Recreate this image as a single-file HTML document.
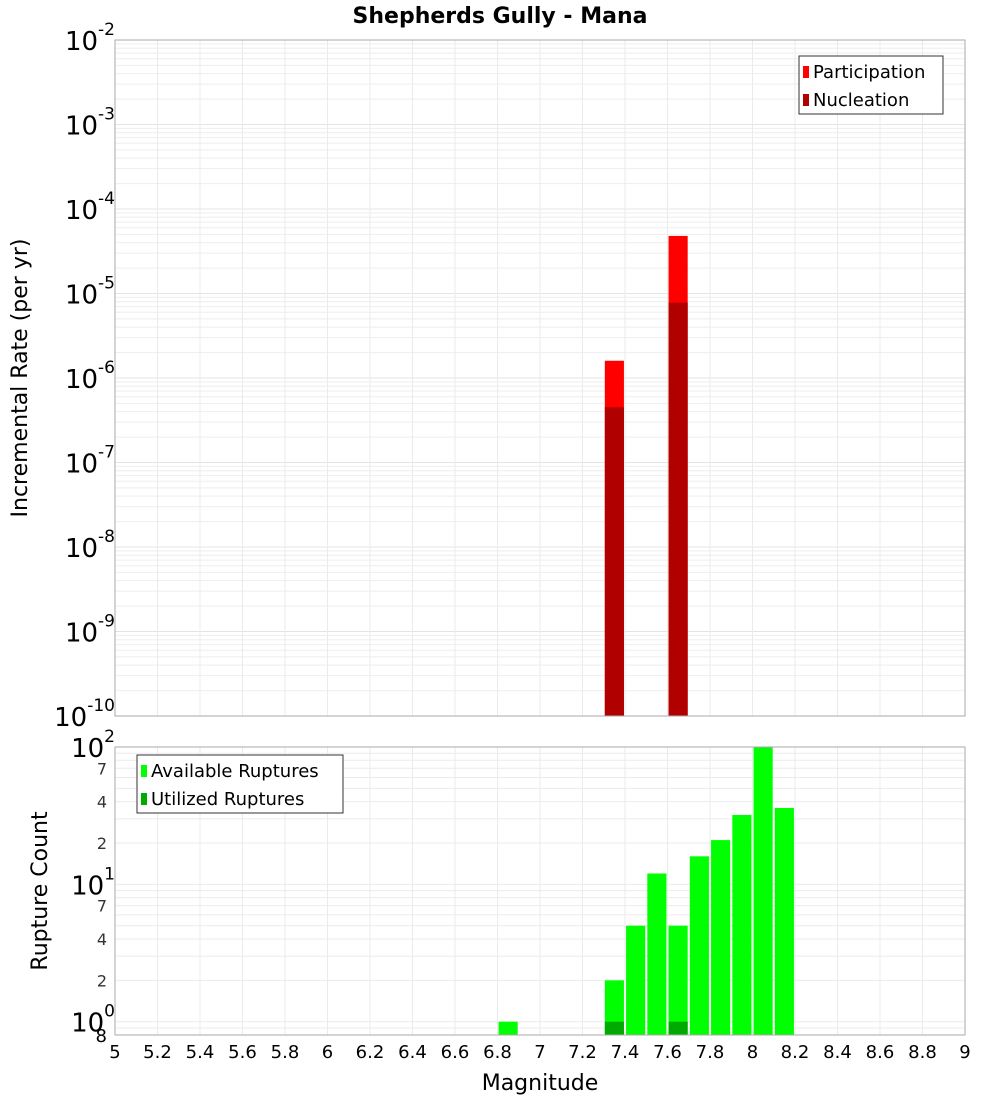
<!DOCTYPE html>
<html><head><meta charset="utf-8"><style>
body{margin:0;background:#fff;font-family:"DejaVu Sans","Liberation Sans",sans-serif}
svg text{font-family:"DejaVu Sans","Liberation Sans",sans-serif}
</style></head><body>
<svg id="c" width="1000" height="1100" xmlns="http://www.w3.org/2000/svg">
<text x="500" y="23" text-anchor="middle" font-size="22" font-weight="bold">Shepherds Gully - Mana</text>
<text transform="translate(27,378) rotate(-90)" text-anchor="middle" font-size="22">Incremental Rate (per yr)</text>
<text transform="translate(47,891) rotate(-90)" text-anchor="middle" font-size="22">Rupture Count</text>
<text x="540" y="1090" text-anchor="middle" font-size="22">Magnitude</text>
<g id="g"></g>
</svg>
<script>
const mags=[7.35,7.65];
const participation=[1.6e-6,4.8e-5];
const nucleation=[4.5e-7,7.8e-6];
const countMags=[6.85,7.35,7.45,7.55,7.65,7.75,7.85,7.95,8.05,8.15];
const available=[1,2,5,12,5,16,21,32,100,36];
const utilMags=[7.35,7.65];
const utilized=[1,1];
const xTicks=[5,5.2,5.4,5.6,5.8,6,6.2,6.4,6.6,6.8,7,7.2,7.4,7.6,7.8,8,8.2,8.4,8.6,8.8,9];
const topExps=[-10,-9,-8,-7,-6,-5,-4,-3,-2];
const botMinorLabels=[2,4,7,20,40,70];

const NS="http://www.w3.org/2000/svg",G=document.getElementById('g');
function mk(t,a,p){const e=document.createElementNS(NS,t);for(const k in a)e.setAttribute(k,a[k]);(p||G).appendChild(e);return e;}
const X0=115,X1=965;
const x=m=>X0+(m-5)/4*(X1-X0);
const T0=40,T1=716;
const yT=v=>T0+(-2-Math.log10(v))/8*(T1-T0);
const B0=747,B1=1035,BL=0.8;
const yB=v=>B0+(2-Math.log10(v))/(2-Math.log10(BL))*(B1-B0);

// grids
for(let e=-10;e<-2;e++)for(let k=1;k<10;k++){const y=yT(k*Math.pow(10,e));
 const l=mk('line',{x1:X0,x2:X1,y1:y,y2:y,stroke:k==1?'#e4e4e4':'#eeeeee','stroke-width':1});
 }
for(const v of [0.8,0.9,1,2,3,4,5,6,7,8,9,10,20,30,40,50,60,70,80,90]){const y=yB(v);
 const l=mk('line',{x1:X0,x2:X1,y1:y,y2:y,stroke:'#ebebeb'});
 }
for(const t of xTicks){for(const [a,b] of [[T0,T1],[B0,B1]]){
 const l=mk('line',{x1:x(t),x2:x(t),y1:a,y2:b,stroke:'#ebebeb'});
 }}
// top bars
mags.forEach((m,i)=>{
 const r=mk('rect',{x:x(m-0.045),width:x(m+0.045)-x(m-0.045),y:yT(participation[i]),height:T1-yT(participation[i]),fill:'#ff0000'});
 
 const n=mk('rect',{x:x(m-0.045),width:x(m+0.045)-x(m-0.045),y:yT(nucleation[i]),height:T1-yT(nucleation[i]),fill:'#b00000'});
 });
// bottom bars
countMags.forEach((m,i)=>{
 const r=mk('rect',{x:x(m-0.045),width:x(m+0.045)-x(m-0.045),y:yB(available[i]),height:B1-yB(available[i]),fill:'#00ff00'});
 });
utilMags.forEach((m,i)=>{
 const r=mk('rect',{x:x(m-0.045),width:x(m+0.045)-x(m-0.045),y:yB(utilized[i]),height:B1-yB(utilized[i]),fill:'#00aa00'});
 });
// frames
for(const [a,b,n] of [[T0,T1,'top-plot-frame'],[B0,B1,'bottom-plot-frame']]){
 const r=mk('rect',{x:X0,y:a,width:X1-X0,height:b-a,fill:'none',stroke:'#aaaaaa'});
 }
// x ticks
xTicks.forEach(t=>{const s=mk('text',{x:x(t),y:1058,'text-anchor':'middle','font-size':18});s.textContent=String(t);
 });
// top y labels
function pow(xr,y,e,name){const t=mk('text',{x:xr,y:y,'font-size':26,'text-anchor':'end'});
 t.textContent='10';const s=document.createElementNS(NS,'tspan');s.setAttribute('dy','-15');s.setAttribute('font-size','17');s.textContent=e;t.appendChild(s);
 return t;}
topExps.forEach(e=>{const el=pow(115,yT(Math.pow(10,e))+10,String(e),'top-y-tick-label');});
// bottom y labels
[0,1,2].forEach(e=>pow(115,yB(Math.pow(10,e))+10,String(e),'bottom-y-tick-label'));
botMinorLabels.forEach(v=>{const t=mk('text',{x:107,y:yB(v)+6,'font-size':16,fill:'#333','text-anchor':'end'});
 t.textContent=String(v>=10?v/10:v);});
{const t=mk('text',{x:107,y:1042,'font-size':18,'text-anchor':'end'});t.textContent='8';
 }
// legends
function legend(x0,y0,w,items,name){const b=mk('rect',{x:x0,y:y0,width:w,height:58,fill:'#fff',stroke:'#333'});
 
 items.forEach((it,i)=>{const r=mk('rect',{x:x0+4,y:y0+10+i*28,width:6,height:12,fill:it[1]});
  
  const t=mk('text',{x:x0+14,y:y0+22+i*28,'font-size':18});t.textContent=it[0];
  });}
legend(799,56,144,[['Participation','#ff0000'],['Nucleation','#b00000']],'top-legend');
legend(137,755,206,[['Available Ruptures','#00ff00'],['Utilized Ruptures','#00aa00']],'bottom-legend');
</script>
</body></html>
